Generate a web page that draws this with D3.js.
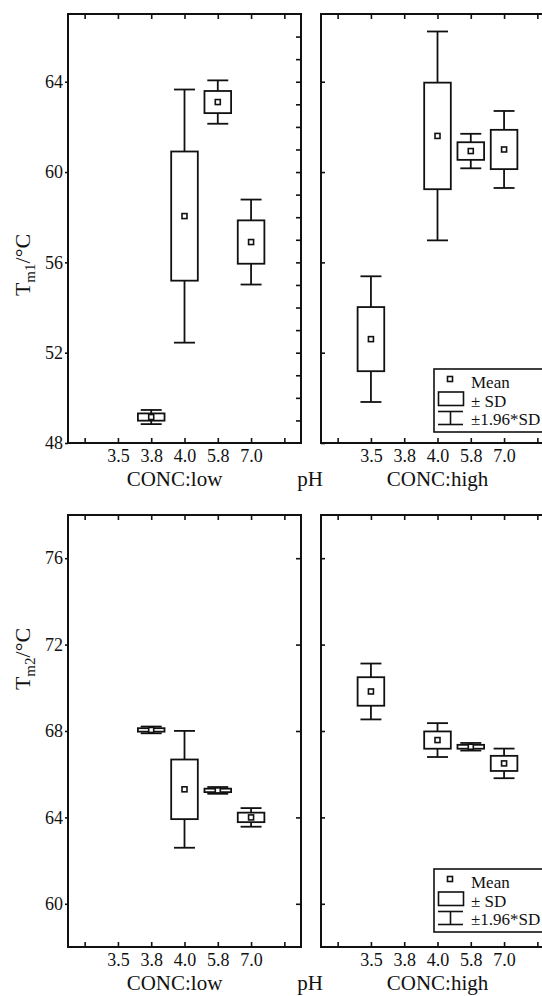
<!DOCTYPE html>
<html>
<head>
<meta charset="utf-8">
<script src="https://cdn.jsdelivr.net/npm/d3@7"></script>
<style>
  html, body { margin: 0; padding: 0; background: #fff; }
  svg { display: block; }
</style>
</head>
<body>
<div id="chart"></div>
<script>
// pH categories along the x axis of every panel
const pH = ["3.5", "3.8", "4.0", "5.8", "7.0"];
const concLabels = ["CONC:low", "CONC:high"];

// First melting transition (Tm1): mean and standard deviation per pH, null = not measured
const tm1LowMean  = [null, 49.15, 58.05, 63.10, 56.90];
const tm1LowSD    = [null, 0.16, 2.86, 0.49, 0.96];
const tm1HighMean = [52.60, null, 61.60, 60.93, 61.00];
const tm1HighSD   = [1.42, null, 2.36, 0.39, 0.87];

// Second melting transition (Tm2)
const tm2LowMean  = [null, 68.05, 65.30, 65.25, 64.00];
const tm2LowSD    = [null, 0.08, 1.38, 0.08, 0.22];
const tm2HighMean = [69.83, null, 67.58, 67.27, 66.50];
const tm2HighSD   = [0.66, null, 0.40, 0.09, 0.35];

const tm1Ticks = [48, 52, 56, 60, 64];
const tm2Ticks = [60, 64, 68, 72, 76];
const tm1Domain = [48, 67];
const tm2Domain = [58, 78];

const legendLabels = ["Mean", "\u00B1 SD", "\u00B11.96*SD"];

const FONT = "'Liberation Serif', 'Times New Roman', 'DejaVu Serif', serif";
const INK = "#111";

const W = 542, H = 996;
const svg = d3.select("#chart").append("svg")
  .attr("width", W).attr("height", H)
  .attr("viewBox", `0 0 ${W} ${H}`)
  .style("font-family", FONT);

const panelW = 233;
const panelX = [68, 321];
const rows = [
  { top: 14, bottom: 443, domain: tm1Domain, ticks: tm1Ticks, minor: true,
    sub: "m1", titleY: 265,
    series: [[tm1LowMean, tm1LowSD], [tm1HighMean, tm1HighSD]], legendGap: 11 },
  { top: 515, bottom: 947, domain: tm2Domain, ticks: tm2Ticks, minor: false,
    sub: "m2", titleY: 659,
    series: [[tm2LowMean, tm2LowSD], [tm2HighMean, tm2HighSD]], legendGap: 15 }
];

const slotIdx = d3.range(-1, 6); // one empty slot either side of the pH categories

function label(sel, size) {
  return sel.style("font-family", FONT).style("font-size", size + "px").style("fill", INK);
}

function markerSquare(g, cx, cy) {
  g.append("rect")
    .attr("x", cx - 2.5).attr("y", cy - 2.5)
    .attr("width", 5).attr("height", 5)
    .attr("fill", "#fff").attr("stroke", INK).attr("stroke-width", 1.6);
}

function styleAxis(ag, size) {
  ag.select(".domain").remove();
  ag.selectAll("line").attr("stroke", INK).attr("stroke-width", 1.6);
  label(ag.selectAll("text"), size);
}

rows.forEach(row => {
  const y = d3.scaleLinear().domain(row.domain).range([row.bottom, row.top]);

  row.series.forEach(([means, sds], p) => {
    const x0 = panelX[p];
    const x = d3.scaleLinear().domain([-1.5, 5.5]).range([x0, x0 + panelW]);
    const slot = x(1) - x(0);
    const g = svg.append("g");

    // frame
    g.append("rect")
      .attr("x", x0).attr("y", row.top)
      .attr("width", panelW).attr("height", row.bottom - row.top)
      .attr("fill", "none").attr("stroke", INK).attr("stroke-width", 2);

    // bottom axis with pH labels, ticks pointing inward
    styleAxis(g.append("g").attr("transform", `translate(0,${row.bottom})`)
      .call(d3.axisBottom(x).tickValues(slotIdx)
        .tickFormat(i => pH[i] !== undefined ? pH[i] : "")
        .tickSizeInner(-5).tickSizeOuter(0).tickPadding(6)), 18);

    // top axis, ticks only
    styleAxis(g.append("g").attr("transform", `translate(0,${row.top})`)
      .call(d3.axisTop(x).tickValues(slotIdx).tickFormat("")
        .tickSizeInner(-5).tickSizeOuter(0)), 18);

    // left axis: labelled on the first panel, inward ticks on the second
    const yl = p === 0
      ? d3.axisLeft(y).tickValues(row.ticks).tickSizeInner(3).tickSizeOuter(0).tickPadding(2)
      : d3.axisLeft(y).tickValues(row.ticks).tickFormat("").tickSizeInner(-4).tickSizeOuter(0);
    styleAxis(g.append("g").attr("transform", `translate(${x0},0)`).call(yl), 18);

    // right axis, inward ticks (unit ticks on the Tm1 row)
    const rTicks = row.minor ? d3.range(row.domain[0] + 1, row.domain[1]) : row.ticks;
    styleAxis(g.append("g").attr("transform", `translate(${x0 + panelW},0)`)
      .call(d3.axisRight(y).tickValues(rTicks).tickFormat("")
        .tickSizeInner(-5).tickSizeOuter(0)), 18);

    // group label under the panel
    label(g.append("text")
      .attr("x", x0 + panelW / 2 + (p === 0 ? -10 : 0))
      .attr("y", row.bottom + 43)
      .attr("text-anchor", "middle"), 21)
      .text(concLabels[p]);

    // boxes: mean ± SD, whiskers: mean ± 1.96·SD
    const data = means.map((m, i) => ({ i, m, s: sds[i] })).filter(d => d.m !== null);
    const boxW = slot * 0.8, capW = slot * 0.63;
    const bx = g.selectAll("g.bx").data(data).join("g").attr("class", "bx");
    bx.append("line")
      .attr("x1", d => x(d.i)).attr("x2", d => x(d.i))
      .attr("y1", d => y(d.m + 1.96 * d.s)).attr("y2", d => y(d.m - 1.96 * d.s))
      .attr("stroke", INK).attr("stroke-width", 1.8);
    [1, -1].forEach(sign => {
      bx.append("line")
        .attr("x1", d => x(d.i) - capW / 2).attr("x2", d => x(d.i) + capW / 2)
        .attr("y1", d => y(d.m + sign * 1.96 * d.s)).attr("y2", d => y(d.m + sign * 1.96 * d.s))
        .attr("stroke", INK).attr("stroke-width", 1.8);
    });
    bx.append("rect")
      .attr("x", d => x(d.i) - boxW / 2).attr("width", boxW)
      .attr("y", d => y(d.m + d.s))
      .attr("height", d => y(d.m - d.s) - y(d.m + d.s))
      .attr("fill", "#fff").attr("stroke", INK).attr("stroke-width", 1.8);
    bx.each(function (d) { markerSquare(d3.select(this), x(d.i), y(d.m)); });

    if (p === 1) {
      // legend, anchored to the lower right of the high-concentration panel
      const lx = x0 + 113, ly = row.bottom - row.legendGap - 63;
      const lg = g.append("g").attr("transform", `translate(${lx},${ly})`);
      lg.append("rect").attr("width", 120).attr("height", 63)
        .attr("fill", "#fff").attr("stroke", INK).attr("stroke-width", 1.6);
      markerSquare(lg, 16, 10);
      lg.append("rect").attr("x", 4.5).attr("y", 23).attr("width", 25).attr("height", 13.5)
        .attr("fill", "#fff").attr("stroke", INK).attr("stroke-width", 1.6);
      lg.append("line").attr("x1", 4).attr("x2", 29).attr("y1", 42.5).attr("y2", 42.5)
        .attr("stroke", INK).attr("stroke-width", 1.6);
      lg.append("line").attr("x1", 4).attr("x2", 29).attr("y1", 55.5).attr("y2", 55.5)
        .attr("stroke", INK).attr("stroke-width", 1.6);
      lg.append("line").attr("x1", 16.5).attr("x2", 16.5).attr("y1", 42.5).attr("y2", 55.5)
        .attr("stroke", INK).attr("stroke-width", 1.6);
      [18.5, 37.5, 56].forEach((by, k) => {
        label(lg.append("text").attr("x", 37).attr("y", by), 17)
          .text(legendLabels[k]);
      });
    }
  });

  // shared x title between the panels
  label(svg.append("text")
    .attr("x", 310).attr("y", row.bottom + 43)
    .attr("text-anchor", "middle"), 21).text("pH");

  // y title with subscript
  const t = label(svg.append("text")
    .attr("transform", `translate(30,${row.titleY}) rotate(-90)`)
    .attr("text-anchor", "middle"), 22);
  t.append("tspan").text("T");
  t.append("tspan").style("font-size", "15px").attr("dy", 5).text(row.sub);
  t.append("tspan").attr("dy", -5).text("/\u00B0C");
});
</script>
</body>
</html>
